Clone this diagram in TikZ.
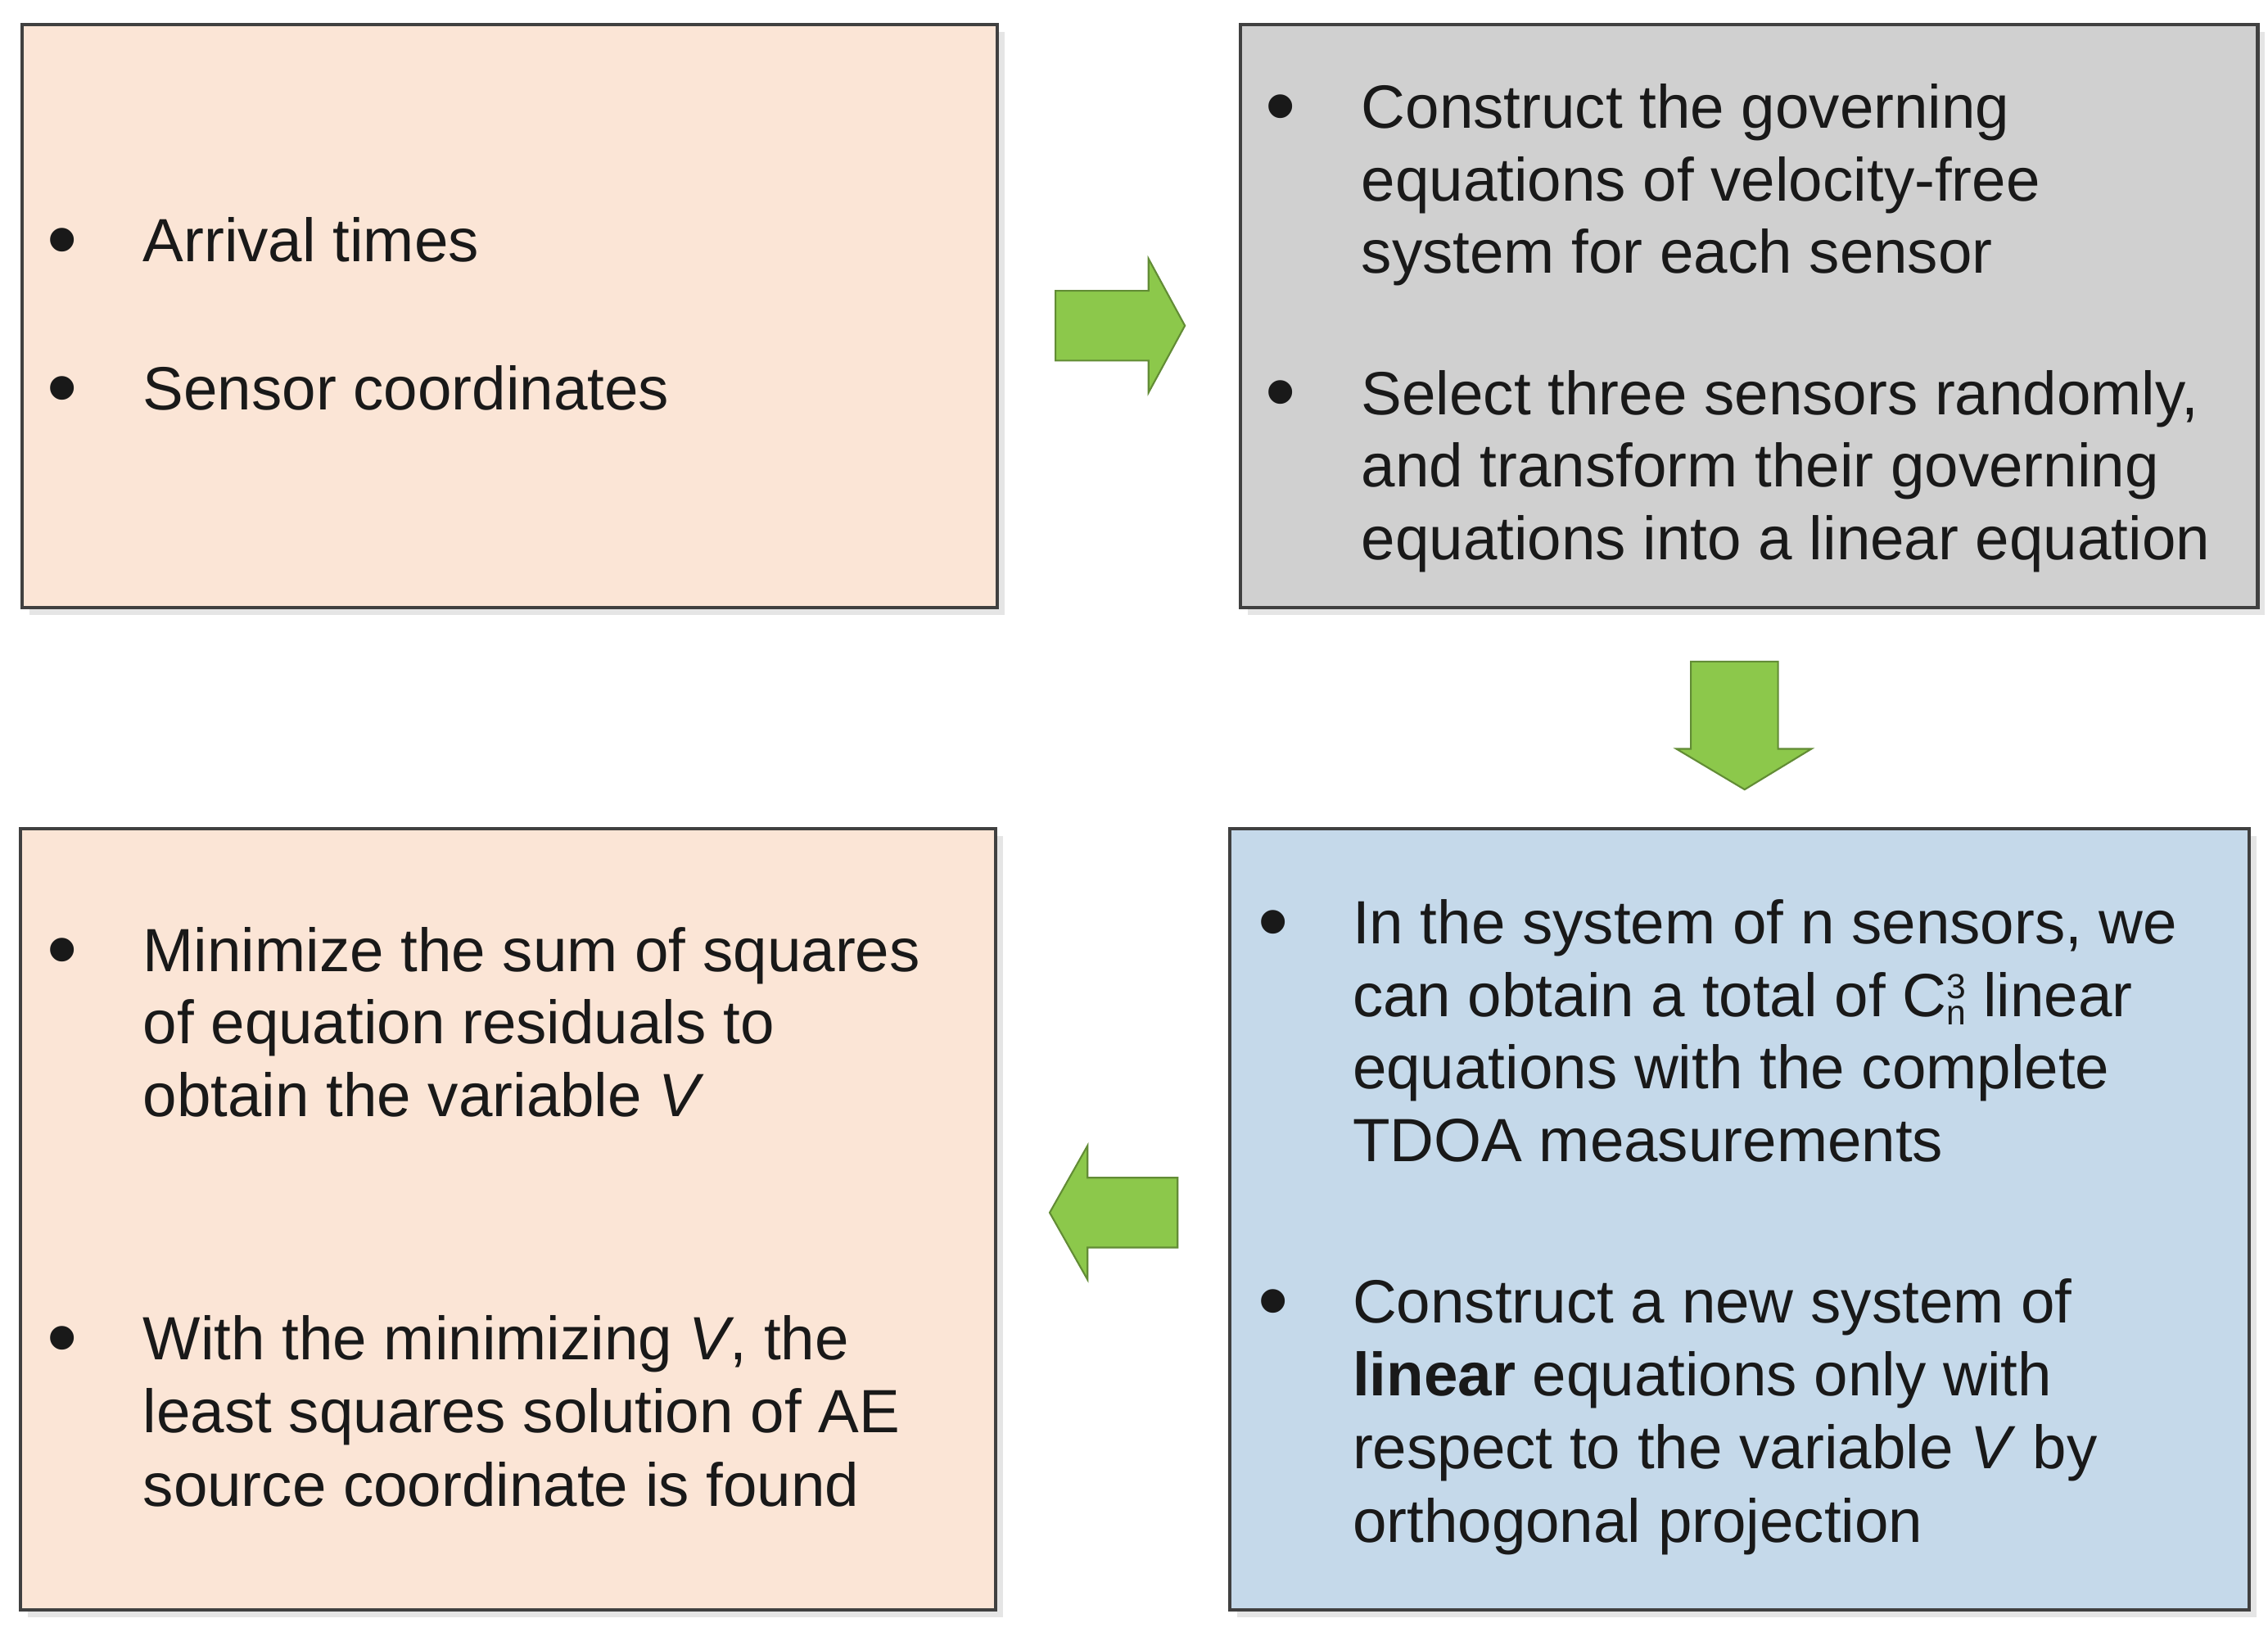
\documentclass[tikz,border=0pt]{standalone}
\usepackage{fontspec}
\setmainfont{Liberation Sans}
\begin{document}
\begin{tikzpicture}[x=0.5pt,y=-0.5pt,
  box/.style={draw=black!75,line width=1.2pt},
  shadow/.style={fill=black!10},
  t/.style={anchor=base west,inner sep=0pt,font=\fontsize{21}{24}\selectfont,text=black!90},
  bu/.style={anchor=base west,inner sep=0pt,yshift=-2.5pt,font=\fontsize{30}{30}\selectfont,text=black!90}]
\definecolor{peach}{HTML}{FBE5D6}
\definecolor{gr}{HTML}{D0D0D0}
\definecolor{bl}{HTML}{C5D9EA}
\definecolor{grn}{HTML}{8CC84B}
\useasboundingbox (0,0) rectangle (1560,1122);
\foreach \a/\b/\c/\d in {15/17/686/418, 853/17/1553/418, 846/570/1547/1107, 14/570/685/1107}
  \fill[shadow] (\a+5,\b+5) rectangle (\c+5,\d+5);
\draw[box,fill=peach] (15,17) rectangle (686,418);
\draw[box,fill=gr] (853,17) rectangle (1553,418);
\draw[box,fill=bl] (846,570) rectangle (1547,1107);
\draw[box,fill=peach] (14,570) rectangle (685,1107);
\tikzset{arr/.style={fill=grn,draw=grn!70!black,line width=0.6pt}}
\draw[arr] (726,200) -- (790,200) -- (790,178) -- (815,224) -- (790,270) -- (790,248) -- (726,248) -- cycle;
\draw[arr] (1163,455) -- (1223,455) -- (1223,515) -- (1246,515) -- (1200,543) -- (1153,515) -- (1163,515) -- cycle;
\draw[arr] (810,810) -- (748,810) -- (748,788) -- (722,834) -- (748,880) -- (748,858) -- (810,858) -- cycle;
% box1
\node[bu] (b1a) at (32,180) {\textbullet};
\node[t] (l1a) at (98,180) {Arrival times};
\node[bu] (b1b) at (32,282) {\textbullet};
\node[t] (l1b) at (98,282) {Sensor coordinates};
% box2
\node[bu] (b2a) at (870,88) {\textbullet};
\node[t] (l2a) at (936,88) {Construct the governing};
\node[t] (l2b) at (936,138) {equations of velocity-free};
\node[t] (l2c) at (936,188) {system for each sensor};
\node[bu] (b2b) at (870,285) {\textbullet};
\node[t] (l2d) at (936,285) {Select three sensors randomly,};
\node[t] (l2e) at (936,335) {and transform their governing};
\node[t] (l2f) at (936,385) {equations into a linear equation};
% box3
\node[bu] (b3a) at (865,649) {\textbullet};
\node[t] (l3a) at (930,649) {In the system of n sensors, we};
\node[t] (l3b) at (930,699) {can obtain a total of C\rlap{\raisebox{0.55ex}{\fontsize{12}{12}\selectfont 3}}\raisebox{-0.25ex}{\fontsize{12}{12}\selectfont n} linear};
\node[t] (l3c) at (930,749) {equations with the complete};
\node[t] (l3d) at (930,799) {TDOA measurements};
\node[bu] (b3b) at (865,910) {\textbullet};
\node[t] (l3e) at (930,910) {Construct a new system of};
\node[t] (l3f) at (930,960) {\textbf{linear} equations only with};
\node[t] (l3g) at (930,1010) {respect to the variable \textit{V} by};
\node[t] (l3h) at (930,1061) {orthogonal projection};
% box4
\node[bu] (b4a) at (32,668) {\textbullet};
\node[t] (l4a) at (98,668) {Minimize the sum of squares};
\node[t] (l4b) at (98,718) {of equation residuals to};
\node[t] (l4c) at (98,768) {obtain the variable \textit{V}};
\node[bu] (b4b) at (32,935) {\textbullet};
\node[t] (l4d) at (98,935) {With the minimizing \textit{V}, the};
\node[t] (l4e) at (98,985) {least squares solution of AE};
\node[t] (l4f) at (98,1036) {source coordinate is found};
\end{tikzpicture}
\end{document}
